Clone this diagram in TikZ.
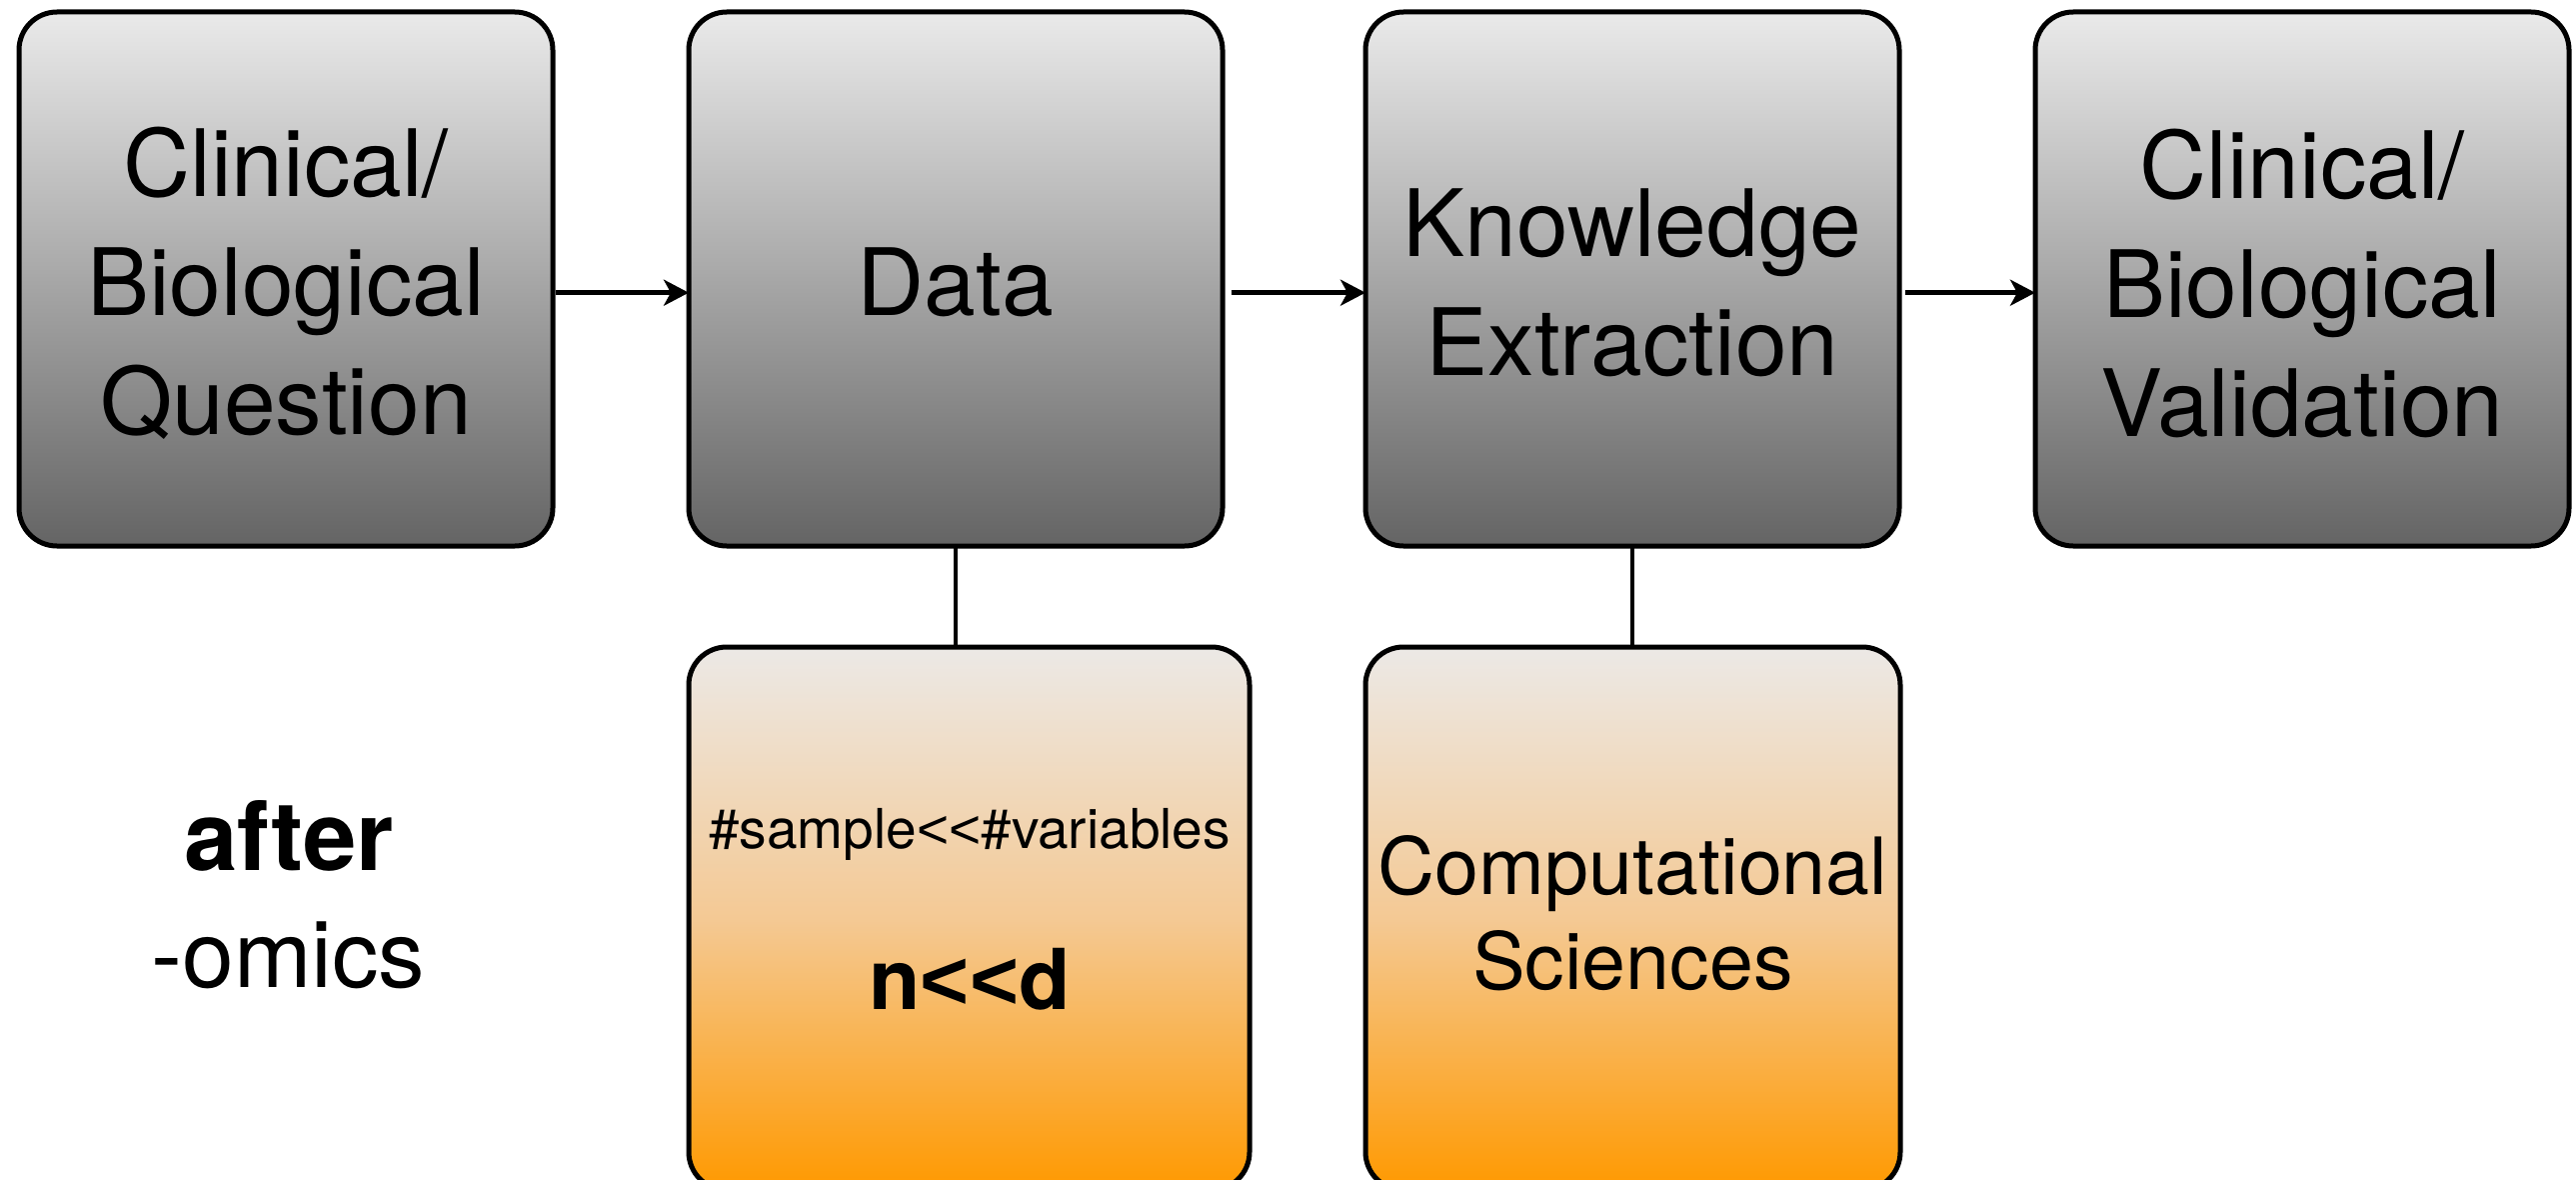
\documentclass[tikz,border=0pt]{standalone}
\usepackage{fontspec}
\setmainfont{TeX Gyre Heros}
\newfontfamily\ltfont{Liberation Sans}
\usetikzlibrary{arrows.meta}
\definecolor{grayTop}{HTML}{EAEAEA}
\definecolor{grayBot}{HTML}{646464}
\definecolor{orTop}{HTML}{ECE9E6}
\definecolor{orMid}{HTML}{F4C994}
\definecolor{orBot}{HTML}{FF9900}
\newcommand{\lts}{{\ltfont<{}<}}
\begin{document}
\begin{tikzpicture}[x=1pt,y=-1pt,
  boxbase/.style={draw=black, line width=5pt, rounded corners=38pt,
    inner sep=0pt, outer sep=0pt},
  gbox/.style={boxbase, minimum width=534pt, minimum height=534pt,
    top color=grayTop, bottom color=grayBot},
  obox/.style={boxbase, minimum height=543pt,
    top color=orTop, bottom color=orBot, middle color=orMid},
  bigtxt/.style={inner sep=0pt, align=center, font=\fontsize{93}{119}\selectfont},
  arr/.style={line width=4.5pt, -{Stealth[length=25pt, width=26pt, inset=7pt]}},
  conn/.style={line width=4pt}]
\path[use as bounding box, clip] (0,0) rectangle (2577,1180);
\fill[white] (0,0) rectangle (2577,1180);
% top row
\node[gbox] (b1) at (286,279) {};
\node[gbox] (b2) at (956,279) {};
\node[gbox] (b3) at (1633,279) {};
\node[gbox] (b4) at (2303,279) {};
% bottom row
\node[obox, minimum width=561pt] (o1) at (969.5,918.5) {};
\node[obox, minimum width=535pt] (o2) at (1633.5,918.5) {};
% texts
\node[bigtxt] (t1) at (286,283) {Clinical/\\Biological\\Question};
\node[bigtxt] (t2) at (956,282) {Data};
\node[bigtxt] (t3) at (1633,283) {Knowledge\\Extraction};
\node[bigtxt] (t4) at (2303,283) {Clinical/\\Biological\\Validation};
\node[inner sep=0pt, anchor=base, font=\fontsize{55}{66}\selectfont] (s1) at (970,848) {\#sample\lts\#variables};
\node[inner sep=0pt, anchor=base, font=\fontsize{84}{100}\selectfont\bfseries] (s2) at (970,1009) {n\lts d};
\node[inner sep=0pt, align=center, font=\fontsize{79}{95}\selectfont] (s3) at (1633.5,913) {Computational\\Sciences};
\node[inner sep=0pt, anchor=base, font=\fontsize{96}{115}\selectfont\bfseries] (a1) at (289,870) {after};
\node[inner sep=0pt, anchor=base, font=\fontsize{93}{115}\selectfont] (a2) at (288.5,987) {-omics};
% arrows
\draw[arr] ([xshift=2.5pt,yshift=-13.7pt]b1.east) -- ([yshift=-13.7pt]b2.west);
\draw[arr] ([xshift=9pt,yshift=-13.7pt]b2.east) -- ([yshift=-13.7pt]b3.west);
\draw[arr] ([xshift=6pt,yshift=-13.7pt]b3.east) -- ([yshift=-13.7pt]b4.west);
% connectors
\draw[conn] (b2.south) -- (b2.south |- o1.north);
\draw[conn] (b3.south) -- (b3.south |- o2.north);
\end{tikzpicture}
\end{document}
